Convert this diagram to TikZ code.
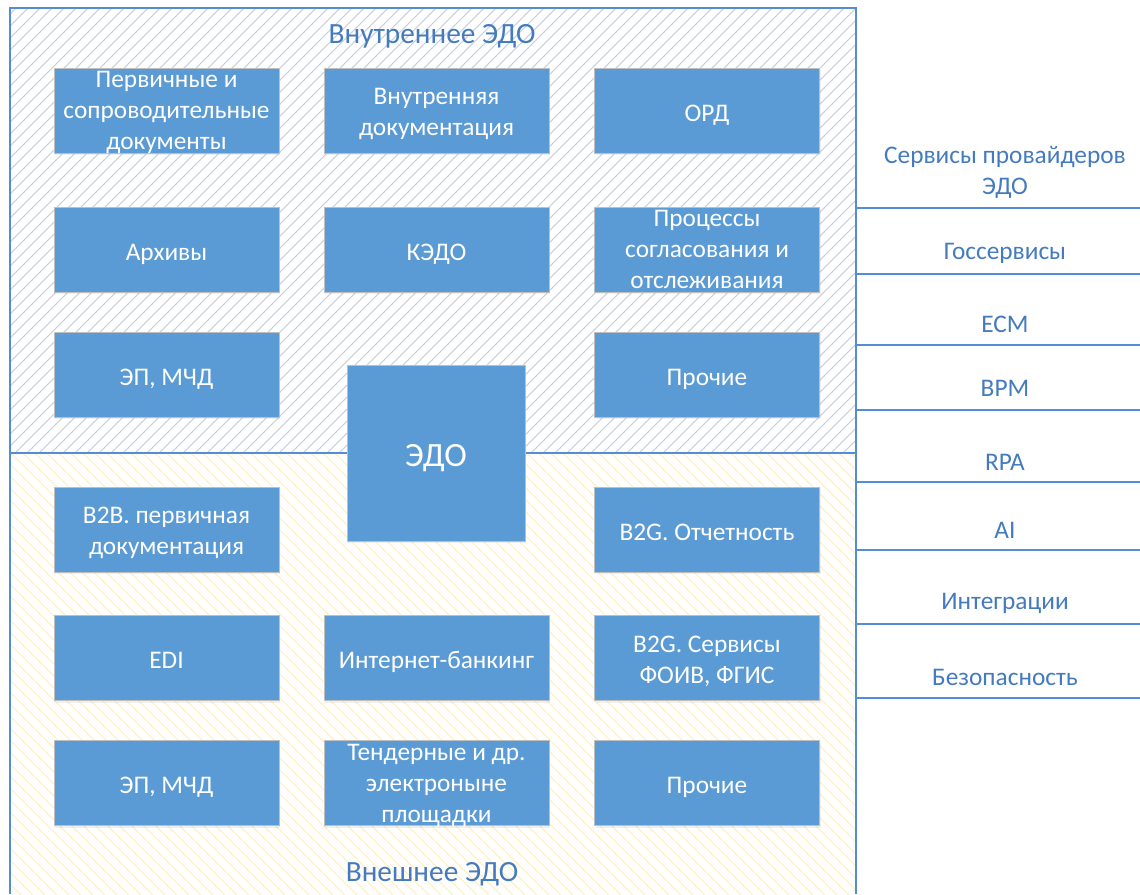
\documentclass[tikz,border=0pt]{standalone}
\usepackage{fontspec}
\setmainfont{Carlito}
\usetikzlibrary{shadows}

\definecolor{boxblue}{RGB}{91,155,213}
\definecolor{edgeblue}{RGB}{84,141,212}
\definecolor{textblue}{RGB}{68,122,190}
\definecolor{hatchgray}{RGB}{200,208,226}
\definecolor{hatchyellow}{RGB}{254,238,200}

\tikzset{
  basebox/.style={draw=black!25, fill=boxblue, text=white, align=center,
    minimum width=168.75pt, minimum height=63.75pt, inner xsep=2pt, inner ysep=0pt,
    font=\fontsize{19}{23.25}\selectfont,
    drop shadow={opacity=0.12, shadow xshift=1pt, shadow yshift=-1.5pt}},
  box/.style={basebox,
    execute at begin node={\rule{0pt}{20pt}},
    execute at end node={\rule[-4pt]{0pt}{4pt}}},
  twobox/.style={basebox, text height=38pt, text depth=0pt},
  tallbox/.style={basebox, text height=59pt, text depth=0pt},
  bigbox/.style={box, minimum width=133.5pt, minimum height=132pt,
    execute at begin node={\rule{0pt}{24pt}},
    font=\fontsize{25.5}{30}\selectfont},
  zonetitle/.style={text=textblue, font=\fontsize{22}{26}\selectfont},
  sidelabel/.style={text=textblue, align=center, font=\fontsize{19}{23.25}\selectfont},
  sideline/.style={draw=edgeblue, line width=1pt}
}

\begin{document}
\begin{tikzpicture}[x=0.75pt, y=-0.75pt]
\useasboundingbox (0,0) rectangle (1140,894);

% inner zone, hatched
\begin{scope}
  \clip (10,8) rectangle (856,453);
  \foreach \i in {0,12,...,1320}
    \draw[hatchgray, line width=0.8pt] (\i,0) -- (\i-460,460);
\end{scope}
% outer zone, hatched
\begin{scope}
  \clip (10,453) rectangle (856,894);
  \foreach \i in {-460,-448,...,880}
    \draw[hatchyellow, line width=0.8pt] (\i,450) -- (\i+450,900);
\end{scope}
\draw[edgeblue, line width=1pt] (10,8) rectangle (856,453);
\draw[edgeblue, line width=1pt] (10,453) -- (10,894) (856,453) -- (856,894);

\node[zonetitle] (inner) at (432,36) {Внутреннее ЭДО};
\node[zonetitle] (outer) at (432,874) {Внешнее ЭДО};

% inner boxes
\node[tallbox] (prim)  at (166.5,110.5) {Первичные и\\сопроводительные\\документы};
\node[twobox] (intdoc) at (436.5,110.5) {Внутренняя\\документация};
\node[box] (ord)   at (707,110.5) {ОРД};
\node[box] (arch)  at (166.5,249.5) {Архивы};
\node[box] (kedo)  at (436.5,249.5) {КЭДО};
\node[tallbox] (proc)  at (707,249.5) {Процессы\\согласования и\\отслеживания};
\node[box] (epin)  at (166.5,374.5) {ЭП, МЧД};
\node[box] (othin) at (707,374.5) {Прочие};

% outer boxes
\node[twobox] (btob)  at (166.5,529.5) {B2B. первичная\\документация};
\node[box] (btog)  at (707,529.5) {B2G. Отчетность};
\node[box] (edi)   at (166.5,658) {EDI};
\node[box] (bank)  at (436.5,658) {Интернет-банкинг};
\node[twobox] (foiv)  at (707,658) {B2G. Сервисы\\ФОИВ, ФГИС};
\node[box] (epout) at (166.5,783) {ЭП, МЧД};
\node[tallbox] (tend)  at (436.5,783) {Тендерные и др.\\электроныне\\площадки};
\node[box] (othout) at (707,783) {Прочие};

% centre
\node[bigbox] (edo) at (436,453) {ЭДО};

% side services
\foreach \y in {208,274,345,410,482,550,624,698}
  \draw[sideline] (856,\y) -- (1140,\y);
\node[sidelabel] (prov) at (1005,172) {Сервисы провайдеров\\ЭДО};
\node[sidelabel] (gos)  at (1005,253) {Госсервисы};
\node[sidelabel] (ecm)  at (1005,324) {ECM};
\node[sidelabel] (bpm)  at (1005,388) {BPM};
\node[sidelabel] (rpa)  at (1005,462) {RPA};
\node[sidelabel] (ai)   at (1005,530) {AI};
\node[sidelabel] (integ) at (1005,603) {Интеграции};
\node[sidelabel] (sec)  at (1005,677) {Безопасность};

\end{tikzpicture}
\end{document}
